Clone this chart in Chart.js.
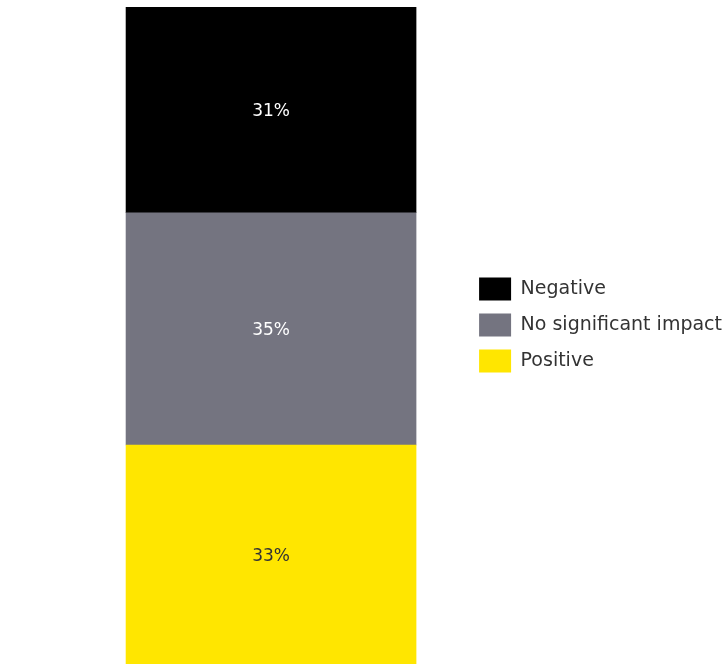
<!DOCTYPE html>
<html>
<head>
<meta charset="utf-8">
<script src="https://cdn.jsdelivr.net/npm/chart.js@4"></script>
<style>
  html, body { margin:0; padding:0; background:#fff; overflow:hidden; }
  #wrap { width:732px; height:664px; position:relative; }
</style>
</head>
<body>
<div id="wrap"><canvas id="c"></canvas></div>
<script>
// ---- DATA ----
const categories = ['Impact'];
const seriesNames = ['Positive', 'No significant impact', 'Negative'];
const positive = [33];
const noImpact = [35];
const negative = [31];

const barColors = ['#FFE600', '#747480', '#000000'];
const labelColors = ['#333333', '#FFFFFF', '#FFFFFF'];
const FONT = '"DejaVu Sans", sans-serif';

// value labels in the middle of each segment
const barLabels = {
  id: 'barLabels',
  afterDatasetsDraw(chart) {
    const ctx = chart.ctx;
    chart.data.datasets.forEach((ds, i) => {
      chart.getDatasetMeta(i).data.forEach((bar, j) => {
        const p = bar.getCenterPoint();
        ctx.save();
        ctx.fillStyle = labelColors[i];
        ctx.font = '17px ' + FONT;
        ctx.textAlign = 'center';
        ctx.textBaseline = 'middle';
        ctx.fillText(ds.data[j] + '%', p.x, p.y + 2);
        ctx.restore();
      });
    });
  }
};

new Chart(document.getElementById('c'), {
  type: 'bar',
  data: {
    labels: categories,
    datasets: [
      { label: seriesNames[0], data: positive, backgroundColor: barColors[0] },
      { label: seriesNames[1], data: noImpact, backgroundColor: barColors[1] },
      { label: seriesNames[2], data: negative, backgroundColor: barColors[2] }
    ]
  },
  options: {
    responsive: true, maintainAspectRatio: false, animation: false,
    layout: { padding: { top: 7, left: 76, right: 0, bottom: 0 } },
    datasets: { bar: { barThickness: 290 } },
    plugins: {
      tooltip: { enabled: false },
      legend: {
        position: 'right',
        align: 'start',
        reverse: true,
        // empty title only used to push the items down
        title: { display: true, text: '', font: { size: 10 }, padding: { top: 245.5, bottom: 0 } },
        labels: {
          boxWidth: 32, boxHeight: 23, padding: 13,
          color: '#333333',
          font: { family: FONT, size: 19 }
        }
      }
    },
    scales: {
      x: { stacked: true, display: false },
      y: { stacked: true, display: false, min: 0, max: 99 }
    }
  },
  plugins: [barLabels]
});
</script>
</body>
</html>
